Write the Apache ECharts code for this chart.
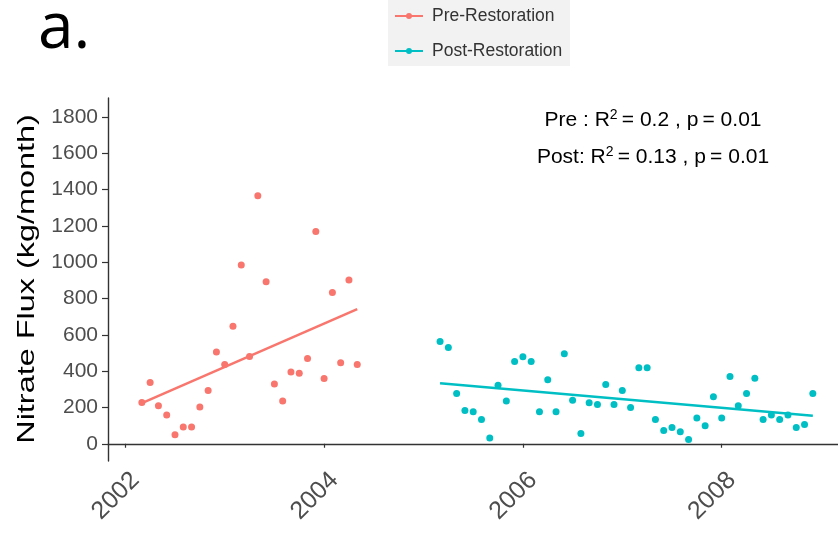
<!DOCTYPE html>
<html><head><meta charset="utf-8">
<script src="https://cdn.jsdelivr.net/npm/echarts@6/dist/echarts.min.js"></script>
<style>html,body{margin:0;padding:0;background:#fff}#c{width:838px;height:534px}</style>
</head><body><div id="c"></div>
<script>
// ---- data ----
const preMonths = ['2002-03','2002-04','2002-05','2002-06','2002-07','2002-08','2002-09','2002-10','2002-11','2002-12',
  '2003-01','2003-02','2003-03','2003-04','2003-05','2003-06','2003-07','2003-08','2003-09','2003-10','2003-11','2003-12',
  '2004-01','2004-02','2004-03','2004-04','2004-05'];
const preValues = [227,337,209,158,50,92,92,202,294,505,
  437,648,985,481,1367,893,329,235,395,388,470,1170,
  359,833,446,902,437];
const postMonths = ['2005-03','2005-04','2005-05','2005-06','2005-07','2005-08','2005-09','2005-10','2005-11','2005-12',
  '2006-01','2006-02','2006-03','2006-04','2006-05','2006-06','2006-07','2006-08','2006-09','2006-10','2006-11','2006-12',
  '2007-01','2007-02','2007-03','2007-04','2007-05','2007-06','2007-07','2007-08','2007-09','2007-10','2007-11','2007-12',
  '2008-01','2008-02','2008-03','2008-04','2008-05','2008-06','2008-07','2008-08','2008-09','2008-10','2008-11','2008-12'];
const postValues = [563,531,277,183,176,133,32,323,235,453,
  479,453,176,352,176,496,240,57,226,216,327,216,
  294,200,419,419,133,73,90,66,24,142,99,259,
  142,370,209,277,361,133,158,133,158,90,106,277];
const preFitMonths = ['2002-03','2004-05'];
const preFitValues = [224,742];
const postFitMonths = ['2005-03','2008-12'];
const postFitValues = [334,154];
const yTickValues = [0,200,400,600,800,1000,1200,1400,1600,1800];
const xTickYears = [2002,2004,2006,2008];
const seriesNames = ['Pre-Restoration','Post-Restoration'];
const statLines = [['Pre : R','\u2009= 0.2 , p\u2009= 0.01'],['Post: R','\u2009= 0.13 , p\u2009= 0.01']];

function toYear(s){const p=s.split('-').map(Number);return p[0]+(p[1]-1)/12;}
function pairs(months, vals){return months.map((m,i)=>[toYear(m), vals[i]]);}

const preColor = '#F8766D', postColor = '#00BFC4';
const iconPath = 'path://M0,2H28V4H0Z M11,3A3,3 0 1,1 17,3A3,3 0 1,1 11,3Z';
const font = 'Liberation Sans, Arial, sans-serif';

const chart = echarts.init(document.getElementById('c'), null, {renderer:'canvas'});
chart.setOption({
  animation:false,
  backgroundColor:'#fff',
  grid:{left:108, right:0, top:98, bottom:73, containLabel:false},
  legend:{
    orient:'vertical', left:390, top:2, itemWidth:28, itemHeight:6, itemGap:17,
    data:[{name:seriesNames[0], icon:iconPath},{name:seriesNames[1], icon:iconPath}],
    textStyle:{fontFamily:font, fontSize:17.5, color:'#333', padding:[0,0,0,4]},
    selectedMode:false
  },
  xAxis:{
    type:'value', min:2001.826, max:2009.17,
    axisLine:{show:true, lineStyle:{color:'#333', width:1.4}},
    axisTick:{show:true, length:4, lineStyle:{color:'#333', width:1.2}, customValues:xTickYears},
    axisLabel:{customValues:xTickYears, rotate:45, color:'#4d4d4d', fontFamily:font, fontSize:25, margin:5,
      align:'right', verticalAlign:'top', padding:[2,0,0,0],
      formatter:v=>String(Math.round(v))},
    splitLine:{show:false}
  },
  yAxis:{
    type:'value', min:-95, max:1905,
    axisLine:{show:true, lineStyle:{color:'#333', width:1.4}},
    axisTick:{show:true, length:6, lineStyle:{color:'#333', width:1.2}, customValues:yTickValues},
    axisLabel:{customValues:yTickValues, color:'#4d4d4d', fontFamily:font, fontSize:21, margin:10,
      formatter:v=>String(v)},
    splitLine:{show:false}
  },
  series:[
    {name:seriesNames[0], type:'line', data:pairs(preFitMonths, preFitValues), symbol:'none',
      lineStyle:{color:preColor, width:2.5}, itemStyle:{color:preColor}, z:3},
    {name:seriesNames[0], type:'scatter', data:pairs(preMonths, preValues), symbolSize:7,
      itemStyle:{color:preColor, opacity:1}, z:2},
    {name:seriesNames[1], type:'line', data:pairs(postFitMonths, postFitValues), symbol:'none',
      lineStyle:{color:postColor, width:2.5}, itemStyle:{color:postColor}, z:3},
    {name:seriesNames[1], type:'scatter', data:pairs(postMonths, postValues), symbolSize:7,
      itemStyle:{color:postColor, opacity:1}, z:2}
  ],
  graphic:[
    {type:'rect', z:-10, shape:{x:388, y:0, width:182, height:66}, style:{fill:'#f2f2f2'}},
    {type:'text', x:38, y:30, style:{text:'a.', fontFamily:'Open Sans, sans-serif', fontSize:64, fill:'#000',
      align:'left', verticalAlign:'middle'}},
    {type:'text', x:27, y:279, rotation:Math.PI/2, scaleX:1.35, style:{text:'Nitrate Flux (kg/month)',
      fontFamily:font, fontSize:24, fill:'#000', align:'center', verticalAlign:'middle'}},
    {type:'text', x:653, y:120, style:{
      text:'{a|'+statLines[0][0]+'}{s|2}{a|'+statLines[0][1]+'}',
      align:'center', verticalAlign:'middle',
      rich:{a:{fontFamily:font, fontSize:21, fill:'#000', lineHeight:24},
            s:{fontFamily:font, fontSize:14, fill:'#000', verticalAlign:'top', lineHeight:24}}}},
    {type:'text', x:653, y:157, style:{
      text:'{a|'+statLines[1][0]+'}{s|2}{a|'+statLines[1][1]+'}',
      align:'center', verticalAlign:'middle',
      rich:{a:{fontFamily:font, fontSize:21, fill:'#000', lineHeight:24},
            s:{fontFamily:font, fontSize:14, fill:'#000', verticalAlign:'top', lineHeight:24}}}}
  ]
});
</script></body></html>
